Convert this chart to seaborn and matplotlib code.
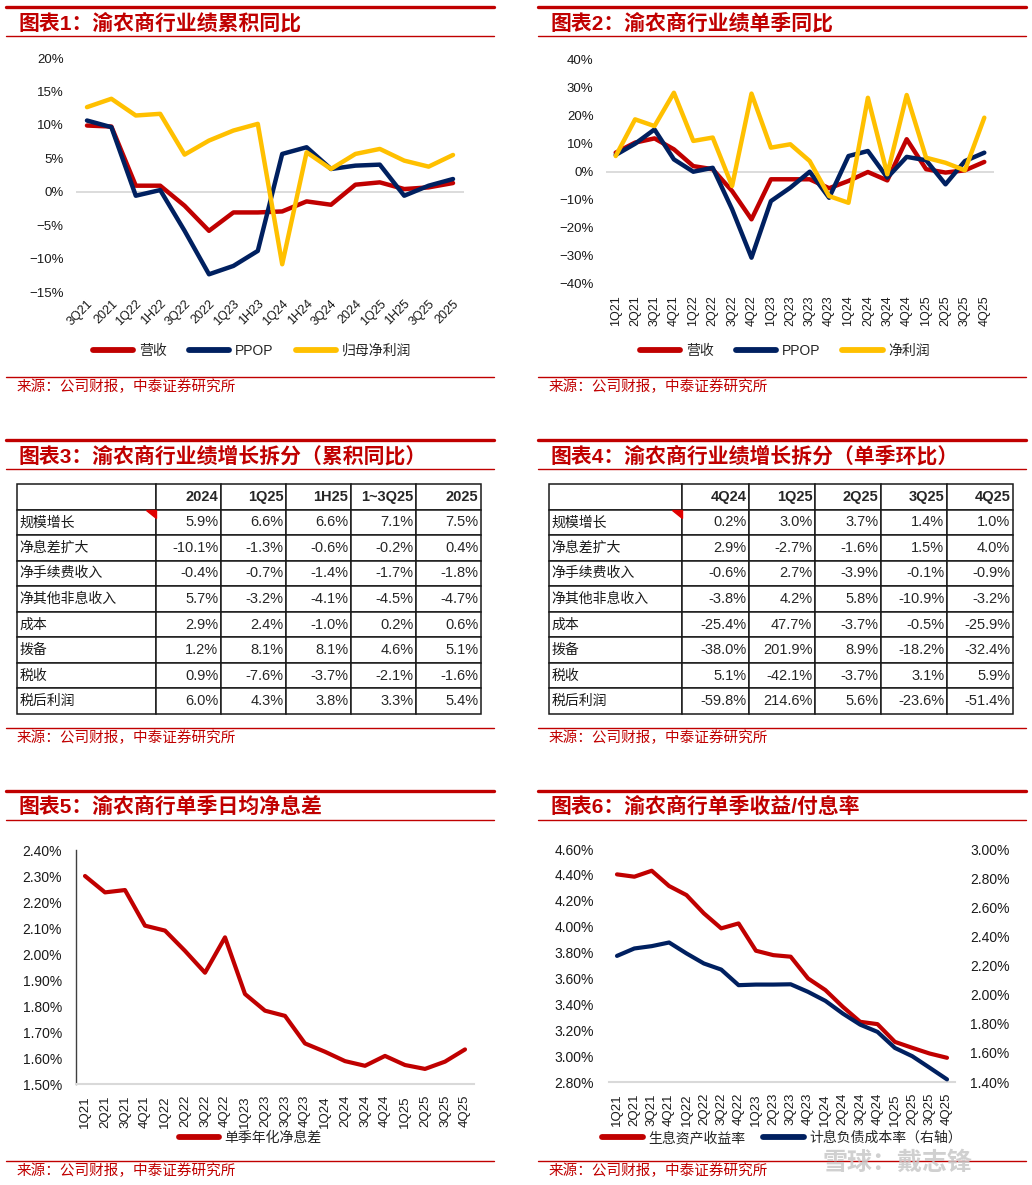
import numpy as np
import pandas as pd
import seaborn as sns
import matplotlib.pyplot as plt
from matplotlib.lines import Line2D
from matplotlib.ticker import FuncFormatter

# ---- data ----
# 图表1: 累积同比 (%)
cum_labels = ['3Q21', '2021', '1Q22', '1H22', '3Q22', '2022', '1Q23', '1H23',
              '1Q24', '1H24', '3Q24', '2024', '1Q25', '1H25', '3Q25', '2025']
cum_rev = [9.9, 9.75, 0.9, 0.9, -2.1, -5.85, -3.1, -3.1,
           -2.95, -1.45, -1.95, 1.05, 1.4, 0.4, 0.65, 1.3]
cum_ppop = [10.65, 9.65, -0.6, 0.25, -5.85, -12.35, -11.1, -8.85,
            5.65, 6.65, 3.4, 3.9, 4.05, -0.6, 0.9, 1.9]
cum_np = [12.65, 13.9, 11.4, 11.65, 5.55, 7.65, 9.15, 10.15,
          -10.85, 5.9, 3.4, 5.65, 6.4, 4.65, 3.75, 5.5]

# 图表2: 单季同比 (%)
q_labels = ['1Q21', '2Q21', '3Q21', '4Q21', '1Q22', '2Q22', '3Q22', '4Q22',
            '1Q23', '2Q23', '3Q23', '4Q23', '1Q24', '2Q24', '3Q24', '4Q24',
            '1Q25', '2Q25', '3Q25', '4Q25']
q_rev = [6.9, 10.5, 12.0, 8.1, 2.1, 1.0, -6.8, -16.9, -2.6, -2.6,
         -2.6, -5.8, -3.2, 0.0, -3.0, 11.7, 1.0, -0.2, 0.6, 3.6]
q_ppop = [6.1, 10.1, 15.2, 4.5, 0.1, 1.5, -13.3, -30.6, -10.4, -5.6,
          0.1, -9.2, 5.7, 7.5, -2.0, 5.4, 4.2, -4.4, 3.9, 6.9]
q_np = [5.7, 18.8, 16.4, 28.3, 11.1, 12.3, -5.0, 28.0, 8.7, 9.9,
        3.9, -8.6, -11.0, 26.5, -0.8, 27.5, 5.1, 3.3, 0.6, 19.4]

# 图表3: 累积同比拆分
t3_cols = ['', '2024', '1Q25', '1H25', '1~3Q25', '2025']
t3_rows = ['规模增长', '净息差扩大', '净手续费收入', '净其他非息收入',
           '成本', '拨备', '税收', '税后利润']
t3_2024 = [5.9, -10.1, -0.4, 5.7, 2.9, 1.2, 0.9, 6.0]
t3_1q25 = [6.6, -1.3, -0.7, -3.2, 2.4, 8.1, -7.6, 4.3]
t3_1h25 = [6.6, -0.6, -1.4, -4.1, -1.0, 8.1, -3.7, 3.8]
t3_3q25 = [7.1, -0.2, -1.7, -4.5, 0.2, 4.6, -2.1, 3.3]
t3_2025 = [7.5, 0.4, -1.8, -4.7, 0.6, 5.1, -1.6, 5.4]

# 图表4: 单季环比拆分
t4_cols = ['', '4Q24', '1Q25', '2Q25', '3Q25', '4Q25']
t4_4q24 = [0.2, 2.9, -0.6, -3.8, -25.4, -38.0, 5.1, -59.8]
t4_1q25 = [3.0, -2.7, 2.7, 4.2, 47.7, 201.9, -42.1, 214.6]
t4_2q25 = [3.7, -1.6, -3.9, 5.8, -3.7, 8.9, -3.7, 5.6]
t4_3q25 = [1.4, 1.5, -0.1, -10.9, -0.5, -18.2, 3.1, -23.6]
t4_4q25 = [1.0, 4.0, -0.9, -3.2, -25.9, -32.4, 5.9, -51.4]

# 图表5: 单季年化净息差 (%)
nim = [2.30, 2.237, 2.246, 2.109, 2.09, 2.012, 1.928, 2.064, 1.846, 1.782,
       1.762, 1.656, 1.624, 1.588, 1.57, 1.608, 1.573, 1.558, 1.586, 1.633]

# 图表6: 生息资产收益率 / 计息负债成本率 (%)
asset_yield = [4.404, 4.386, 4.432, 4.314, 4.244, 4.103, 3.987, 4.025, 3.814, 3.78,
               3.768, 3.60, 3.51, 3.381, 3.265, 3.247, 3.11, 3.064, 3.02, 2.987]
liab_cost = [2.266, 2.317, 2.333, 2.358, 2.283, 2.214, 2.172, 2.065, 2.069, 2.069,
             2.071, 2.019, 1.957, 1.870, 1.794, 1.744, 1.634, 1.577, 1.498, 1.418]

RED = '#C00000'
NAVY = '#002060'
GOLD = '#FFC000'
W, H = 1032, 1185

sns.set_theme(style='white')
plt.rcParams['font.family'] = ['Liberation Sans', 'Noto Sans CJK SC']
plt.rcParams['axes.unicode_minus'] = True

fig = plt.figure(figsize=(W / 100, H / 100), dpi=100)


def box(l, t, r, b):
    return [l / W, 1 - b / H, (r - l) / W, (b - t) / H]


def hline(x0, x1, y, lw):
    fig.add_artist(Line2D([x0 / W, x1 / W], [1 - y / H, 1 - y / H], color=RED,
                          lw=lw, transform=fig.transFigure))


def panel_frame(x0, x1, top, title_y, thin, src_line, src_y, title):
    hline(x0, x1, top, 2.4)
    hline(x0, x1, thin, 1.0)
    hline(x0, x1, src_line, 1.0)
    fig.text((x0 + 13) / W, 1 - title_y / H, title, color=RED, fontsize=15,
             fontweight='bold', va='center')
    fig.text((x0 + 11) / W, 1 - src_y / H, '来源：公司财报，中泰证券研究所',
             color=RED, fontsize=10.5, va='center')


def pct0(v, _):
    return f'{v:.0f}%'.replace('-', '\u2212')


def pct2(v, _):
    return f'{v:.2f}%'


def style_line_ax(ax):
    for s in ax.spines.values():
        s.set_visible(False)
    ax.tick_params(length=0, labelsize=9.5, colors='#1a1a1a')
    ax.grid(False)


def add_legend(ax, handles, labels, cx, cy, spacing=1.6):
    leg = ax.legend(handles, labels, loc='center', bbox_to_anchor=(cx / W, 1 - cy / H),
                    bbox_transform=fig.transFigure, ncol=len(labels), frameon=False,
                    fontsize=10, handlelength=2.9, handletextpad=0.4,
                    columnspacing=spacing)
    for ln in leg.get_lines():
        ln.set_linewidth(4.2)
        ln.set_solid_capstyle('round')
    return leg


# ---- 图表1 ----
panel_frame(6, 494, 7, 23, 36, 377, 387, '图表1：渝农商行业绩累积同比')
ax1 = fig.add_axes(box(76, 58, 464, 292))
x1 = np.arange(len(cum_labels))
ax1.axhline(0, color='#D9D9D9', lw=1.3, zorder=0)
for vals, col, name in [(cum_rev, RED, '营收'), (cum_ppop, NAVY, 'PPOP'),
                        (cum_np, GOLD, '归母净利润')]:
    sns.lineplot(x=x1, y=vals, color=col, lw=3.2, label=name, ax=ax1)
style_line_ax(ax1)
ax1.set_xlim(-0.45, len(cum_labels) - 0.55)
ax1.set_ylim(-15, 20)
ax1.set_yticks(np.arange(-15, 21, 5))
ax1.yaxis.set_major_formatter(FuncFormatter(pct0))
ax1.set_xticks(x1)
ax1.set_xticklabels(cum_labels, rotation=45, ha='right', rotation_mode='anchor')
ax1.tick_params(axis='y', pad=9)
ax1.tick_params(axis='x', pad=4, labelsize=9)
h, l = ax1.get_legend_handles_labels()
add_legend(ax1, h, l, 252, 351)

# ---- 图表2 ----
panel_frame(538, 1026, 7, 23, 36, 377, 387, '图表2：渝农商行业绩单季同比')
ax2 = fig.add_axes(box(606, 60, 994, 284))
x2 = np.arange(len(q_labels))
ax2.axhline(0, color='#D9D9D9', lw=1.3, zorder=0)
for vals, col, name in [(q_rev, RED, '营收'), (q_ppop, NAVY, 'PPOP'),
                        (q_np, GOLD, '净利润')]:
    sns.lineplot(x=x2, y=vals, color=col, lw=3.2, label=name, ax=ax2)
style_line_ax(ax2)
ax2.set_xlim(-0.5, len(q_labels) - 0.5)
ax2.set_ylim(-40, 40)
ax2.set_yticks(np.arange(-40, 41, 10))
ax2.yaxis.set_major_formatter(FuncFormatter(pct0))
ax2.set_xticks(x2)
ax2.set_xticklabels(q_labels, rotation=90)
ax2.tick_params(axis='y', pad=9)
ax2.tick_params(axis='x', pad=8, labelsize=9)
h, l = ax2.get_legend_handles_labels()
add_legend(ax2, h, l, 785, 351)


# ---- 图表3 / 图表4 tables ----
def draw_table(ax, header, names, cols, col_w):
    rows = [[n] + [f'{c[i]:.1f}%' for c in cols] for i, n in enumerate(names)]
    tb = ax.table(cellText=[header] + rows, colWidths=col_w, bbox=[0, 0, 1, 1],
                  cellLoc='right')
    tb.auto_set_font_size(False)
    tb.set_fontsize(10.5)
    for (r, c), cell in tb.get_celld().items():
        cell.set_edgecolor('#1a1a1a')
        cell.set_linewidth(1.1)
        cell.PAD = 0.04
        if c == 0:
            cell._loc = 'left'
            cell.get_text().set_horizontalalignment('left')
            cell.PAD = 0.02
            cell.set_text_props(fontsize=10, color='#1a1a1a')
        if r == 0:
            cell.set_text_props(fontweight='bold')
    ax.axis('off')
    # small red comment marker on the first column
    fx = col_w[0] / sum(col_w)
    ty = 1 - 1 / (len(names) + 1)
    ax.fill([fx - 0.022, fx, fx], [ty, ty, ty - 0.035], color='#E00000',
            transform=ax.transAxes, zorder=5, clip_on=False)


panel_frame(6, 494, 440, 456, 469, 728, 738, '图表3：渝农商行业绩增长拆分（累积同比）')
ax3 = fig.add_axes(box(17, 484, 481, 714))
draw_table(ax3, t3_cols, t3_rows, [t3_2024, t3_1q25, t3_1h25, t3_3q25, t3_2025],
           [139, 65, 65, 65, 65, 65])

panel_frame(538, 1026, 440, 456, 469, 728, 738, '图表4：渝农商行业绩增长拆分（单季环比）')
ax4 = fig.add_axes(box(549, 484, 1013, 714))
draw_table(ax4, t4_cols, t3_rows, [t4_4q24, t4_1q25, t4_2q25, t4_3q25, t4_4q25],
           [133, 67, 66, 66, 66, 66])

# ---- 图表5 ----
panel_frame(6, 494, 791, 807, 820, 1161, 1171, '图表5：渝农商行单季日均净息差')
ax5 = fig.add_axes(box(76, 850, 474, 1084))
sns.lineplot(x=x2, y=nim, color=RED, lw=3.0, label='单季年化净息差', ax=ax5)
style_line_ax(ax5)
ax5.spines['left'].set_visible(True)
ax5.spines['left'].set_color('#404040')
ax5.spines['left'].set_linewidth(1.0)
ax5.spines['bottom'].set_visible(True)
ax5.spines['bottom'].set_color('#D9D9D9')
ax5.spines['bottom'].set_linewidth(1.5)
ax5.set_xlim(-0.45, len(q_labels) - 0.55)
ax5.set_ylim(1.5, 2.4)
ax5.set_yticks(np.arange(1.5, 2.41, 0.1))
ax5.yaxis.set_major_formatter(FuncFormatter(pct2))
ax5.set_xticks(x2)
ax5.set_xticklabels(q_labels, rotation=90)
ax5.tick_params(axis='y', pad=10, labelsize=10)
ax5.tick_params(axis='x', pad=8, labelsize=9.5)
h, l = ax5.get_legend_handles_labels()
add_legend(ax5, h, l, 250, 1138)

# ---- 图表6 ----
panel_frame(538, 1026, 791, 807, 820, 1161, 1171, '图表6：渝农商行单季收益/付息率')
ax6 = fig.add_axes(box(609, 849, 955, 1082))
sns.lineplot(x=x2, y=asset_yield, color=RED, lw=3.0, label='生息资产收益率', ax=ax6)
ax6r = ax6.twinx()
sns.lineplot(x=x2, y=liab_cost, color=NAVY, lw=3.0, label='计息负债成本率（右轴）', ax=ax6r)
for a in (ax6, ax6r):
    style_line_ax(a)
    a.tick_params(axis='y', pad=11, labelsize=10)
ax6.spines['bottom'].set_visible(True)
ax6.spines['bottom'].set_color('#D9D9D9')
ax6.spines['bottom'].set_linewidth(1.5)
ax6.set_xlim(-0.46, len(q_labels) - 0.54)
ax6.set_ylim(2.8, 4.6)
ax6.set_yticks(np.arange(2.8, 4.61, 0.2))
ax6.yaxis.set_major_formatter(FuncFormatter(pct2))
ax6r.set_ylim(1.4, 3.0)
ax6r.set_yticks(np.arange(1.4, 3.01, 0.2))
ax6r.yaxis.set_major_formatter(FuncFormatter(pct2))
ax6.set_xticks(x2)
ax6.set_xticklabels(q_labels, rotation=90)
ax6.tick_params(axis='x', pad=8, labelsize=9.5)
h1, l1 = ax6.get_legend_handles_labels()
h2, l2 = ax6r.get_legend_handles_labels()
if ax6r.get_legend():
    ax6r.get_legend().remove()
add_legend(ax6, h1 + h2, l1 + l2, 782, 1138, spacing=1.3)

# watermark
fig.text(823 / W, 1 - 1163 / H, '雪球：戴志锋', color='#C8C8C8', alpha=0.85,
         fontsize=18, fontweight='bold', va='center', zorder=10)

fig.savefig('out.png', dpi=100, facecolor='white')
